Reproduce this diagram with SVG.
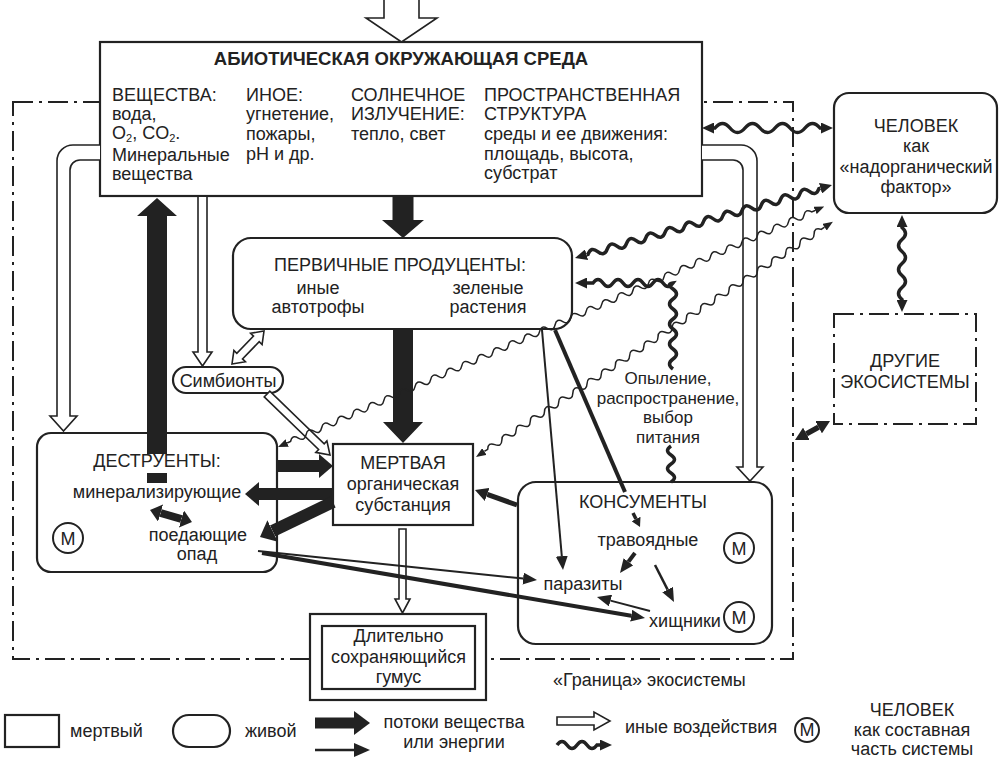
<svg xmlns="http://www.w3.org/2000/svg" width="1002" height="758" viewBox="0 0 1002 758">
<style>
.t{font-family:"Liberation Sans",Arial,sans-serif;font-size:18px;fill:#222}
.s{font-size:17px}
.m{text-anchor:middle}
.b{font-weight:bold;font-size:18.5px}
.box{fill:#fff;stroke:#222;stroke-width:2.2}
.dd{fill:none;stroke:#222;stroke-width:2;stroke-dasharray:20 6 3 6}
.ddb{fill:#fff;stroke:#222;stroke-width:2;stroke-dasharray:20 6 3 6}
.wt{fill:none;stroke:#222;stroke-width:3.5}
.wn{fill:none;stroke:#222;stroke-width:1.5}
.ho{fill:#fff;stroke:#222;stroke-width:1.6}
.hv{fill:#222}
.ln{fill:none;stroke:#222}
.ci{fill:#fff;stroke:#222;stroke-width:2}
</style>
<defs>
<marker id="mW" viewBox="0 0 12 11" refX="0" refY="5.5" markerWidth="12" markerHeight="11" markerUnits="userSpaceOnUse" orient="auto-start-reverse"><path d="M0,0 L12,5.5 L0,11 z" fill="#222"/></marker>
<marker id="mT" viewBox="0 0 10 8" refX="0" refY="4" markerWidth="10" markerHeight="8" markerUnits="userSpaceOnUse" orient="auto-start-reverse"><path d="M0,0 L10,4 L0,8 z" fill="#222"/></marker>
<marker id="mS" viewBox="0 0 14 12" refX="0" refY="6" markerWidth="14" markerHeight="12" markerUnits="userSpaceOnUse" orient="auto-start-reverse"><path d="M0,0 L14,6 L0,12 z" fill="#222"/></marker>
<marker id="mS2" viewBox="0 0 9 10" refX="0" refY="5" markerWidth="9" markerHeight="10" markerUnits="userSpaceOnUse" orient="auto-start-reverse"><path d="M0,0 L9,5 L0,10 z" fill="#222"/></marker>
<marker id="mM" viewBox="0 0 13 14" refX="0" refY="7" markerWidth="13" markerHeight="14" markerUnits="userSpaceOnUse" orient="auto-start-reverse"><path d="M0,0 L13,7 L0,14 z" fill="#222"/></marker>
<marker id="mH" viewBox="0 0 14 24" refX="0" refY="12" markerWidth="14" markerHeight="24" markerUnits="userSpaceOnUse" orient="auto-start-reverse"><path d="M0,0 L14,12 L0,24 z" fill="#222"/></marker>
<marker id="mD" viewBox="0 0 11 18" refX="0" refY="9" markerWidth="11" markerHeight="18" markerUnits="userSpaceOnUse" orient="auto-start-reverse"><path d="M0,0 L11,9 L0,18 z" fill="#222"/></marker>
<marker id="mL" viewBox="0 0 16 24" refX="0" refY="12" markerWidth="16" markerHeight="24" markerUnits="userSpaceOnUse" orient="auto-start-reverse"><path d="M0,0 L16,12 L0,24 z" fill="#222"/></marker>
<marker id="mL2" viewBox="0 0 16 14" refX="0" refY="7" markerWidth="16" markerHeight="14" markerUnits="userSpaceOnUse" orient="auto-start-reverse"><path d="M0,0 L16,7 L0,14 z" fill="#222"/></marker>
</defs>

<g id="boundary">
<rect class="dd" x="13" y="102" width="780" height="557"/>
<text class="t" x="553" y="686">«Граница» экосистемы</text>
</g>

<g id="abiotic">
<rect class="box" x="100" y="42" width="602" height="154"/>
<text class="t b m" x="401" y="65">АБИОТИЧЕСКАЯ ОКРУЖАЮЩАЯ СРЕДА</text>
<text class="t" x="112" y="100.5">ВЕЩЕСТВА:</text>
<text class="t" x="112" y="120">вода,</text>
<text class="t" x="112" y="139">O<tspan font-size="11" dy="2.5">2</tspan><tspan dy="-2.5">, CO</tspan><tspan font-size="11" dy="2.5">2</tspan><tspan dy="-2.5">.</tspan></text>
<text class="t" x="112" y="160.5">Минеральные</text>
<text class="t" x="112" y="179.5">вещества</text>
<text class="t" x="246" y="100.5">ИНОЕ:</text>
<text class="t" x="246" y="120">угнетение,</text>
<text class="t" x="246" y="139.5">пожары,</text>
<text class="t" x="246" y="160">pH и др.</text>
<text class="t" x="351" y="100.5">СОЛНЕЧНОЕ</text>
<text class="t" x="351" y="120">ИЗЛУЧЕНИЕ:</text>
<text class="t" x="351" y="139.5">тепло, свет</text>
<text class="t" x="484" y="100.5">ПРОСТРАНСТВЕННАЯ</text>
<text class="t" x="484" y="120">СТРУКТУРА</text>
<text class="t" x="484" y="139.5">среды и ее движения:</text>
<text class="t" x="484" y="159.5">площадь, высота,</text>
<text class="t" x="484" y="179">субстрат</text>
</g>

<g id="human">
<rect class="box" x="834" y="93" width="163" height="120" rx="15"/>
<text class="t m" x="916" y="132">ЧЕЛОВЕК</text>
<text class="t m" x="916" y="152">как</text>
<text class="t m" x="916" y="173">«надорганический</text>
<text class="t m" x="916" y="193">фактор»</text>
</g>

<g id="other-ecosystems">
<rect class="ddb" x="834" y="314" width="142" height="110"/>
<text class="t m" x="905" y="367">ДРУГИЕ</text>
<text class="t m" x="905" y="388">ЭКОСИСТЕМЫ</text>
</g>

<g id="producers">
<rect class="box" x="233" y="238" width="339" height="91" rx="18"/>
<text class="t m" x="400" y="271">ПЕРВИЧНЫЕ ПРОДУЦЕНТЫ:</text>
<text class="t m" x="318" y="294">иные</text>
<text class="t m" x="318" y="313">автотрофы</text>
<text class="t m" x="488" y="294">зеленые</text>
<text class="t m" x="488" y="313">растения</text>
</g>

<g id="symbionts">
<rect class="box" x="173" y="367" width="110" height="26" rx="13"/>
<text class="t m" x="228" y="387">Симбионты</text>
</g>

<g id="destruents">
<rect class="box" x="37" y="433" width="240" height="139" rx="14"/>
<text class="t m" x="157" y="467">ДЕСТРУЕНТЫ:</text>
<text class="t m" x="157" y="498">минерализирующие</text>
<text class="t m" x="198" y="541">поедающие</text>
<text class="t m" x="197" y="560">опад</text>
<circle class="ci" cx="68" cy="538" r="15"/>
<text class="t m" x="68" y="544.5" font-size="17">M</text>
</g>

<g id="dead-organic">
<rect class="box" x="333" y="444" width="140" height="81"/>
<text class="t m" x="403" y="469">МЕРТВАЯ</text>
<text class="t m" x="403" y="490">органическая</text>
<text class="t m" x="403" y="511">субстанция</text>
</g>

<g id="consumers">
<rect class="box" x="518" y="482" width="254" height="162" rx="18"/>
<text class="t m" x="643" y="508">КОНСУМЕНТЫ</text>
<text class="t m" x="648" y="546">травоядные</text>
<text class="t m" x="583" y="590">паразиты</text>
<text class="t m" x="685" y="627">хищники</text>
<circle class="ci" cx="739" cy="548" r="15"/>
<text class="t m" x="739" y="554.5" font-size="17">M</text>
<circle class="ci" cx="739" cy="617" r="15"/>
<text class="t m" x="739" y="623.5" font-size="17">M</text>
</g>

<g id="humus">
<rect class="box" x="310" y="614" width="176" height="86"/>
<rect class="box" x="322" y="626" width="153" height="63"/>
<text class="t m" x="398.5" y="642">Длительно</text>
<text class="t m" x="398.5" y="663">сохраняющийся</text>
<text class="t m" x="398.5" y="683">гумус</text>
</g>

<g id="connectors">
<!-- hollow arrows -->
<path class="ho" d="M384,-2 V18 H366 L401.5,42 L437,18 H419 V-2"/>
<path class="ho" d="M198,197 V352 H193 L202.5,366 L212,352 H207 V197"/>
<path class="ho" d="M232,364 L245.4,361.7 L242.5,358.9 L259.2,341.7 L262.1,344.5 L264,331 L250.6,333.3 L253.5,336.1 L236.8,353.3 L233.9,350.5 Z"/>
<path class="ho" d="M264.2,396.9 L318.6,449.5 L315.8,452.4 L330,455 L326.9,440.9 L324.2,443.8 L269.8,391.1 Z"/>
<path class="ho" d="M100,145 H73 A16,16 0 0 0 57,161 V416 H50 L63.5,431 L77,416 H70 V170 A10,10 0 0 1 80,160 H100"/>
<path class="ho" d="M702,145 H741 A16,16 0 0 1 757,161 V467 H763 L750,481 L737,467 H743 V170 A10,10 0 0 0 733,160 H702"/>
<path class="ho" d="M399,529 V599 H395 L402.5,613 L410,599 H406 V529 Z"/>

<!-- heavy flows -->
<polygon class="hv" points="392.5,197 413.5,197 413.5,220 424,220 403,238 382,220 392.5,220"/>
<polygon class="hv" points="393,329 413,329 413,422 423,422 403,443 383,422 393,422"/>
<polygon class="hv" points="157,198 177,216 167,216 167,454 147,454 147,216 137,216"/>
<rect class="hv" x="147" y="473" width="20" height="10"/>
<line class="ln" x1="277" y1="466" x2="319" y2="466" stroke-width="12" marker-end="url(#mH)"/>
<line class="ln" x1="333" y1="494" x2="259" y2="494" stroke-width="12" marker-end="url(#mH)"/>
<line class="ln" x1="333" y1="502" x2="272.6" y2="531" stroke-width="12" marker-end="url(#mH)"/>
<line class="ln" x1="517" y1="505" x2="487.2" y2="494.4" stroke-width="5" marker-end="url(#mM)"/>
<line class="ln" x1="160.6" y1="513" x2="181.4" y2="519" stroke-width="8" marker-start="url(#mD)" marker-end="url(#mD)"/>
<line class="ln" x1="806.4" y1="433.8" x2="818.6" y2="427.2" stroke-width="5.5" marker-start="url(#mM)" marker-end="url(#mM)"/>

<!-- thin flows -->
<line class="ln" x1="542" y1="330" x2="561.8" y2="556.1" stroke-width="2" marker-end="url(#mS)"/>
<line class="ln" x1="555" y1="330" x2="625" y2="492" stroke-width="4"/>
<line class="ln" x1="258" y1="551" x2="523.1" y2="578.6" stroke-width="2" marker-end="url(#mS)"/>
<line class="ln" x1="262" y1="553" x2="631.2" y2="615.7" stroke-width="4" marker-end="url(#mS)"/>
<line class="ln" x1="650" y1="611" x2="610.5" y2="600.6" stroke-width="2" marker-end="url(#mS)"/>
<line class="ln" x1="655" y1="565" x2="667.6" y2="589.6" stroke-width="2.5" marker-end="url(#mS)"/>
<line class="ln" x1="635" y1="553" x2="628.4" y2="561.8" stroke-width="4" marker-end="url(#mS)"/>
<line class="ln" x1="633" y1="513" x2="636" y2="519" stroke-width="3.5" marker-end="url(#mS2)"/>

<!-- wavy influences -->
<path class="wt" d="M714,128 h1 q7.5,-9 15,0 t15,0 t15,0 t15,0 t15,0 t15,0 t15,0 h1" marker-start="url(#mW)" marker-end="url(#mW)"/>
<path class="wt" transform="translate(575,258) rotate(-15.86)" d="M12,0 h1.6 q5,-7 10,0 t10,0 t10,0 t10,0 t10,0 t10,0 t10,0 t10,0 t10,0 t10,0 t10,0 t10,0 t10,0 t10,0 t10,0 t10,0 t10,0 t10,0 t10,0 t10,0 t10,0 t10,0 t10,0 t10,0 h1.6" marker-start="url(#mW)" marker-end="url(#mW)"/>
<path class="wt" d="M673,369 q-7,-5 0,-10 t0,-10 t0,-10 t0,-10 t0,-10 t0,-10 t0,-10 t0,-10 t0,-6 q-5,7 -10,0 t-10,0 t-10,0 t-10,0 t-10,0 t-10,0 t-10,0 t-10,0 h-6" marker-end="url(#mW)"/>
<path class="wt" d="M671,446 q-7,4.5 0,9 t0,9 t0,9 t0,9"/>
<path class="wt" d="M902,227 v0.5 q7,6 0,12 t0,12 t0,12 t0,12 t0,12 t0,12 v0.5" marker-start="url(#mW)" marker-end="url(#mW)"/>
<path class="wn" transform="translate(278,447) rotate(-23.77)" d="M10,0 h3.7 q4.25,-6 8.5,0 t8.5,0 t8.5,0 t8.5,0 t8.5,0 t8.5,0 t8.5,0 t8.5,0 t8.5,0 t8.5,0 t8.5,0 t8.5,0 t8.5,0 t8.5,0 t8.5,0 t8.5,0 t8.5,0 t8.5,0 t8.5,0 t8.5,0 t8.5,0 t8.5,0 t8.5,0 t8.5,0 t8.5,0 t8.5,0 t8.5,0 t8.5,0 t8.5,0 t8.5,0 t8.5,0 t8.5,0 t8.5,0 t8.5,0 t8.5,0 t8.5,0 t8.5,0 t8.5,0 t8.5,0 t8.5,0 t8.5,0 t8.5,0 t8.5,0 t8.5,0 t8.5,0 t8.5,0 t8.5,0 t8.5,0 t8.5,0 t8.5,0 t8.5,0 t8.5,0 t8.5,0 t8.5,0 t8.5,0 t8.5,0 t8.5,0 t8.5,0 t8.5,0 t8.5,0 t8.5,0 t8.5,0 t8.5,0 t8.5,0 t8.5,0 t8.5,0 t8.5,0 h3.7" marker-start="url(#mT)" marker-end="url(#mT)"/>
<path class="wn" transform="translate(476,457) rotate(-33.40)" d="M10,0 h4 q4.25,-6 8.5,0 t8.5,0 t8.5,0 t8.5,0 t8.5,0 t8.5,0 t8.5,0 t8.5,0 t8.5,0 t8.5,0 t8.5,0 t8.5,0 t8.5,0 t8.5,0 t8.5,0 t8.5,0 t8.5,0 t8.5,0 t8.5,0 t8.5,0 t8.5,0 t8.5,0 t8.5,0 t8.5,0 t8.5,0 t8.5,0 t8.5,0 t8.5,0 t8.5,0 t8.5,0 t8.5,0 t8.5,0 t8.5,0 t8.5,0 t8.5,0 t8.5,0 t8.5,0 t8.5,0 t8.5,0 t8.5,0 t8.5,0 t8.5,0 t8.5,0 t8.5,0 t8.5,0 t8.5,0 t8.5,0 h4" marker-start="url(#mT)" marker-end="url(#mT)"/>
</g>

<g id="pollination-label">
<text class="t s m" x="668" y="384">Опыление,</text>
<text class="t s m" x="668" y="403.5">распространение,</text>
<text class="t s m" x="668" y="423">выбор</text>
<text class="t s m" x="668" y="442.5">питания</text>
</g>

<g id="legend">
<rect class="box" x="5" y="715" width="54" height="32"/>
<text class="t" x="70" y="737">мертвый</text>
<rect class="box" x="173" y="715" width="57" height="32" rx="16"/>
<text class="t" x="245" y="737">живой</text>
<line class="ln" x1="315" y1="723" x2="354" y2="723" stroke-width="11" marker-end="url(#mL)"/>
<line class="ln" x1="315" y1="750" x2="354" y2="750" stroke-width="2.5" marker-end="url(#mL2)"/>
<text class="t m" x="454" y="728">потоки вещества</text>
<text class="t m" x="454" y="748">или энергии</text>
<path class="ho" d="M557,717 H594 V712 L610,721 L594,730 V725 H557 Z"/>
<path class="wt" d="M557,745 q5,-7 10,0 t10,0 t10,0 t10,0 h3" marker-end="url(#mW)"/>
<text class="t" x="625" y="733">иные воздействия</text>
<circle class="ci" cx="807" cy="730" r="12"/>
<text class="t m" x="807" y="736" font-size="16">M</text>
<text class="t m" x="912" y="716">ЧЕЛОВЕК</text>
<text class="t m" x="912" y="735.5">как составная</text>
<text class="t m" x="912" y="755">часть системы</text>
</g>
</svg>
